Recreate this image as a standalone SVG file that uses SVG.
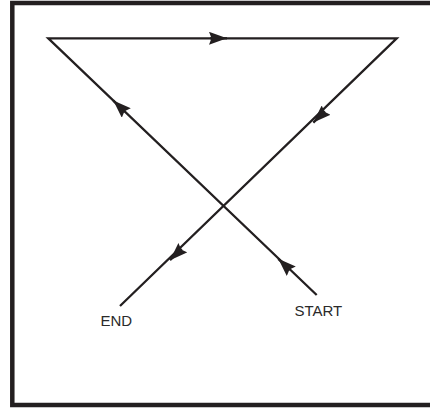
<svg xmlns="http://www.w3.org/2000/svg" width="430" height="410" viewBox="0 0 430 410">
  <style>
    .frame { fill: none; stroke: #231f20; stroke-width: 4.5; }
    .line { fill: none; stroke: #231f20; stroke-width: 2.3; stroke-linejoin: miter; stroke-miterlimit: 20; }
    .arr { fill: none; stroke: #231f20; stroke-width: 2.3; marker-end: url(#ah); }
    .lbl { font-family: "Liberation Sans", Arial, sans-serif; font-size: 15px; fill: #2a2a2a; }
  </style>
  <defs>
    <marker id="ah" viewBox="0 0 18 13" refX="18" refY="6.5" markerUnits="userSpaceOnUse" markerWidth="18" markerHeight="13" orient="auto">
      <path d="M0,0 L18,6.5 L0,13 L2.5,6.5 z" fill="#231f20"/>
    </marker>
  </defs>
  <rect class="frame" x="12.3" y="3" width="430" height="402"/>
  <g id="connectors">
    <path class="line" d="M316.7,295 L48.3,38.3 L396.7,38.3 L120,306"/>
    <path class="arr" d="M290,270 L278.3,258.8"/>
    <path class="arr" d="M125,111.8 L113.3,100.6"/>
    <path class="arr" d="M210,38.3 L227,38.3"/>
    <path class="arr" d="M325,111.3 L313.3,122.6"/>
    <path class="arr" d="M181.7,248.9 L170,260.2"/>
  </g>
  <g id="start">
    <text class="lbl" x="294.5" y="315.5">START</text>
  </g>
  <g id="end">
    <text class="lbl" x="100.5" y="326">END</text>
  </g>
</svg>
